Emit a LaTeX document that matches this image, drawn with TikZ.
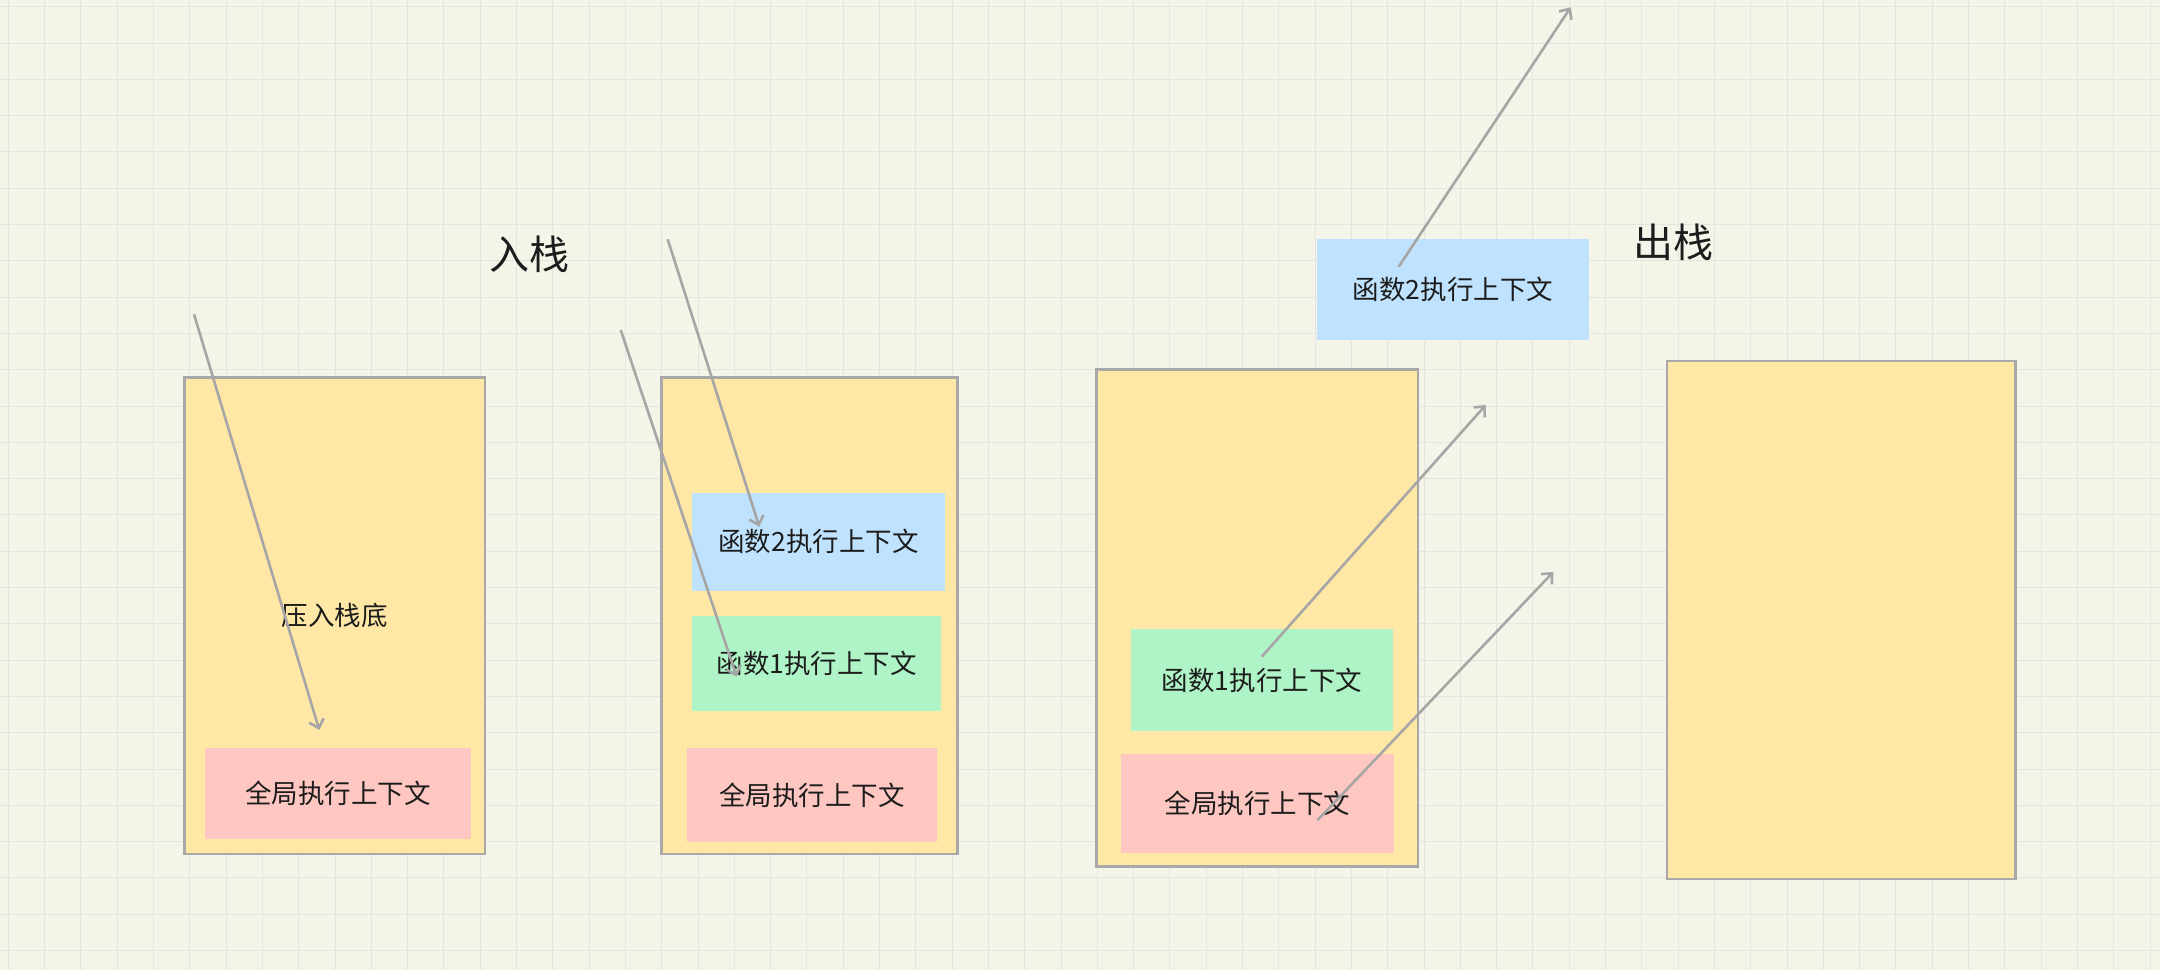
\documentclass[tikz,border=0pt]{standalone}
\usepackage{fontspec}
\setmainfont{Noto Sans CJK SC}
\usetikzlibrary{arrows.meta}
\definecolor{bgc}{HTML}{F4F4E9}
\definecolor{gridc}{HTML}{E5E5E0}
\definecolor{stackyellow}{HTML}{FFE7A6}
\definecolor{bordergray}{HTML}{A8A8A8}
\definecolor{arrowgray}{HTML}{A6A6A6}
\definecolor{ctxred}{HTML}{FFC7C1}
\definecolor{ctxgreen}{HTML}{AFF4C6}
\definecolor{ctxblue}{HTML}{BFE3FE}
\definecolor{txt}{HTML}{1C1C1C}
\begin{document}
\begin{tikzpicture}[x=1pt,y=-1pt,
  stackbox/.style={draw=bordergray, line width=2.6pt, fill=stackyellow, inner sep=0pt,
    font=\fontsize{26.5}{30}\selectfont, text=txt},
  ctxbox/.style={draw=none, inner sep=0pt, font=\fontsize{26.5}{30}\selectfont, text=txt},
  title/.style={inner sep=0pt, font=\fontsize{40}{44}\selectfont, text=txt},
  arr/.style={draw=arrowgray, line width=2.6pt, -{Straight Barb[length=8pt,width=15pt]}}
]
\fill[bgc] (0,0) rectangle (2160,970);
\useasboundingbox (0,0) rectangle (2160,970);
\foreach \i in {0,...,59} \draw[gridc, line width=1pt] ({8.3+36.3*\i},0) -- ({8.3+36.3*\i},970);
\foreach \j in {0,...,26} \draw[gridc, line width=1pt] (0,{6.7+36.3*\j}) -- (2160,{6.7+36.3*\j});

% titles
\node[title] (push) at (529,254) {入栈};
\node[title] (pop) at (1673,242) {出栈};

% stack 1
\node[stackbox, minimum width=300.3pt, minimum height=476.6pt] (s1) at (334.75,615.8) {压入栈底};
\node[ctxbox, fill=ctxred, minimum width=265.8pt, minimum height=91pt] (g1) at (338.2,793.5) {全局执行上下文};

% stack 2
\node[stackbox, minimum width=296.2pt, minimum height=476.6pt] (s2) at (809.3,615.8) {};
\node[ctxbox, fill=ctxblue, minimum width=252.4pt, minimum height=98.3pt] (b2) at (818.5,541.85) {函数2执行上下文};
\node[ctxbox, fill=ctxgreen, minimum width=248.7pt, minimum height=95pt] (f2) at (816.65,663.2) {函数1执行上下文};
\node[ctxbox, fill=ctxred, minimum width=249.4pt, minimum height=93.7pt] (g2) at (812.1,794.85) {全局执行上下文};

% stack 3
\node[stackbox, minimum width=321.3pt, minimum height=497pt] (s3) at (1257.35,617.8) {};
\node[ctxbox, fill=ctxgreen, minimum width=261.4pt, minimum height=102.3pt] (f3) at (1262,680.15) {函数1执行上下文};
\node[ctxbox, fill=ctxred, minimum width=272.7pt, minimum height=99.3pt] (g3) at (1257.65,803.65) {全局执行上下文};
\node[ctxbox, fill=ctxblue, minimum width=271.4pt, minimum height=101pt] (b3) at (1453,289.5) {函数2执行上下文};

% stack 4
\node[stackbox, minimum width=348.5pt, minimum height=518pt] (s4) at (1841.25,620) {};

% arrow ends
\coordinate (a1s) at (194,314.3);
\coordinate (a1e) at (319.3,730);
\coordinate (a2s) at (667.7,239.3);
\coordinate (a2e) at (759.3,526.7);
\coordinate (a3s) at (620.7,330);
\coordinate (a3e) at (736.7,676.7);
\coordinate (a4s) at (1261.7,656.7);
\coordinate (a4e) at (1485.7,405);
\coordinate (a5s) at (1317.7,820);
\coordinate (a5e) at (1553.3,572);
\coordinate (a6s) at (1398.7,266.7);
\coordinate (a6e) at (1570.7,7.3);

\draw[arr] (a1s) -- (a1e);
\draw[arr] (a2s) -- (a2e);
\draw[arr] (a3s) -- (a3e);
\draw[arr] (a4s) -- (a4e);
\draw[arr] (a5s) -- (a5e);
\draw[arr] (a6s) -- (a6e);
\end{tikzpicture}
\end{document}
